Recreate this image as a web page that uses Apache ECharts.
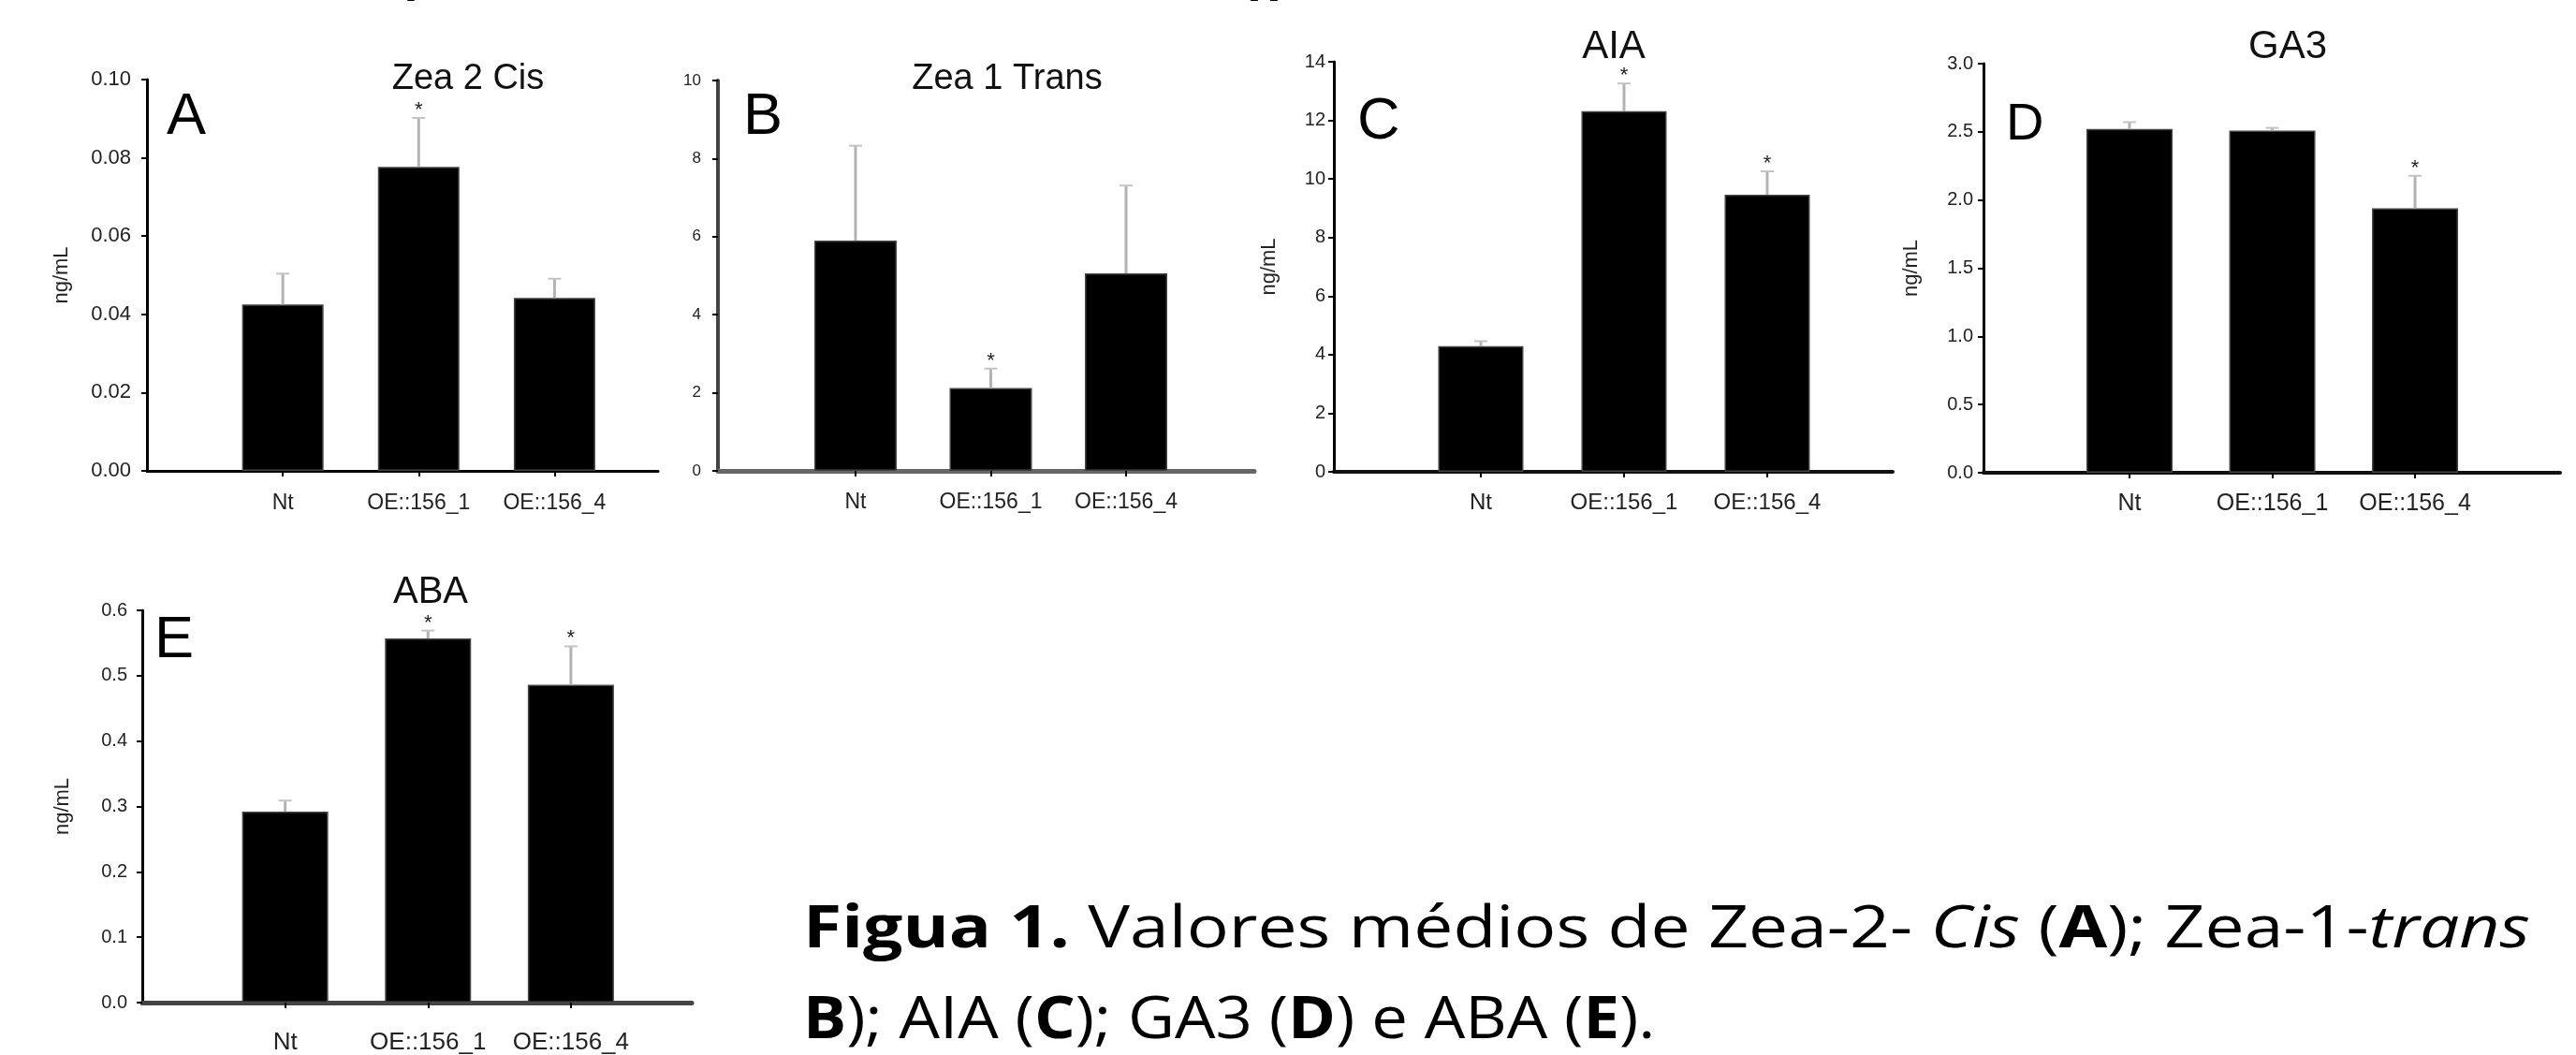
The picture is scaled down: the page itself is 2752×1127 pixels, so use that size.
<!DOCTYPE html>
<html><head><meta charset="utf-8">
<script src="https://cdn.jsdelivr.net/npm/echarts@6/dist/echarts.min.js"></script>
<style>html,body{margin:0;padding:0;background:#fff}#c{width:2752px;height:1127px}</style>
</head><body><div id="c"></div>
<script>
// ---- data ----
const categories = ['Nt', 'OE::156_1', 'OE::156_4'];
const meanA = [0.0425, 0.0777, 0.0442];
const errA  = [0.0079, 0.0125, 0.0049];
const sigA  = [0, 1, 0];
const meanB = [5.90, 2.12, 5.06];
const errB  = [2.43, 0.50, 2.25];
const sigB  = [0, 1, 0];
const meanC = [4.29, 12.31, 9.46];
const errC  = [0.17, 0.95, 0.80];
const sigC  = [0, 1, 1];
const meanD = [2.522, 2.509, 1.940];
const errD  = [0.049, 0.020, 0.238];
const sigD  = [0, 0, 1];
const meanE = [0.292, 0.557, 0.486];
const errE  = [0.017, 0.012, 0.059];
const sigE  = [0, 1, 1];
// y axis [min, max, interval, decimals]
const yAxisA = [0, 0.10, 0.02, 2];
const yAxisB = [0, 10, 2, 0];
const yAxisC = [0, 14, 2, 0];
const yAxisD = [0, 3.0, 0.5, 1];
const yAxisE = [0, 0.6, 0.1, 1];
const titles = ['Zea 2 Cis', 'Zea 1 Trans', 'AIA', 'GA3', 'ABA'];
const letters = ['A', 'B', 'C', 'D', 'E'];
const yUnit = 'ng/mL';

const FONT = "'Liberation Sans', Arial, sans-serif";
const CAPFONT = "'Open Sans', 'Noto Sans', sans-serif";

const panels = [
  {mean: meanA, err: errA, sig: sigA, y: yAxisA, name: yUnit, nameGap: 80,
   grid: {left: 157, top: 85, width: 546, height: 418}, xMin: 0, xMax: 3.762, barW: 87,
   yLine: ['#000', 3], xLine: ['#000', 3], yFont: 22, xFont: 23, yMargin: 17, xMargin: 23,
   t: [500, 66, 38], l: [178, 94, 63]},
  {mean: meanB, err: errB, sig: sigB, y: yAxisB, name: '', nameGap: 0,
   grid: {left: 767, top: 86, width: 573, height: 417}, xMin: -0.017, xMax: 3.948, barW: 88,
   yLine: ['#444', 4], xLine: ['#666', 5], yFont: 17, xFont: 23, yMargin: 18, xMargin: 22,
   t: [1076, 66, 38], l: [794, 94, 63]},
  {mean: meanC, err: errC, sig: sigC, y: yAxisC, name: yUnit, nameGap: 58,
   grid: {left: 1425, top: 66, width: 597, height: 438}, xMin: -0.026, xMax: 3.876, barW: 91,
   yLine: ['#000', 3], xLine: ['#111', 4], yFont: 20, xFont: 24, yMargin: 9, xMargin: 21,
   t: [1724, 29, 42], l: [1450, 99, 63]},
  {mean: meanD, err: errD, sig: sigD, y: yAxisD, name: yUnit, nameGap: 66,
   grid: {left: 2119, top: 68, width: 616, height: 437}, xMin: -0.023, xMax: 4.016, barW: 92,
   yLine: ['#000', 3], xLine: ['#111', 4], yFont: 20, xFont: 25, yMargin: 11, xMargin: 21,
   t: [2444, 29, 42], l: [2143, 106, 56]},
  {mean: meanE, err: errE, sig: sigE, y: yAxisE, name: yUnit, nameGap: 74,
   grid: {left: 152, top: 652, width: 587, height: 437}, xMin: 0, xMax: 3.846, barW: 92,
   yLine: ['#000', 3], xLine: ['#444', 5], yFont: 20, xFont: 26, yMargin: 16, xMargin: 30,
   t: [460, 613, 40], l: [165, 653, 63]}
];

const tickPos = categories.map((c, i) => i + 1);

function errRender(params, api) {
  const x = api.value(0), m = api.value(1), e = api.value(2), s = api.value(3);
  const p0 = api.coord([x, m]);
  const p1 = api.coord([x, m + e]);
  const ch = [
    {type: 'line', shape: {x1: p0[0], y1: p0[1], x2: p1[0], y2: p1[1]}, style: {stroke: '#b3b3b3', lineWidth: 3}},
    {type: 'line', shape: {x1: p1[0] - 7, y1: p1[1], x2: p1[0] + 7, y2: p1[1]}, style: {stroke: '#c4c4c4', lineWidth: 2}}
  ];
  if (s) ch.push({type: 'text', x: p1[0], y: p1[1] - 19,
    style: {text: '*', fontSize: 22, fontFamily: FONT, fill: '#222', align: 'center', verticalAlign: 'top'}});
  return {type: 'group', children: ch};
}

const capRich = {
  b: {fontSize: 62, fontFamily: CAPFONT, fontWeight: 'bold', fill: '#000', lineHeight: 62},
  n: {fontSize: 62, fontFamily: CAPFONT, fill: '#000', lineHeight: 62},
  i: {fontSize: 62, fontFamily: CAPFONT, fontStyle: 'italic', fill: '#000', lineHeight: 62}
};

const option = {
  animation: false,
  backgroundColor: '#fff',
  grid: panels.map(p => Object.assign({containLabel: false}, p.grid)),
  xAxis: panels.map((p, i) => ({
    type: 'value', gridIndex: i, min: p.xMin, max: p.xMax,
    axisLine: {show: true, onZero: false, lineStyle: {color: p.xLine[0], width: p.xLine[1]}},
    axisTick: {show: true, customValues: tickPos, length: 6, lineStyle: {color: '#000', width: 2}},
    axisLabel: {show: true, customValues: tickPos, margin: p.xMargin, fontSize: p.xFont, fontFamily: FONT, color: '#222',
      formatter: v => categories[Math.round(v) - 1] || ''},
    splitLine: {show: false}
  })),
  yAxis: panels.map((p, i) => ({
    type: 'value', gridIndex: i, min: p.y[0], max: p.y[1], interval: p.y[2],
    axisLine: {show: true, onZero: false, lineStyle: {color: p.yLine[0], width: p.yLine[1]}},
    axisTick: {show: true, length: 6, lineStyle: {color: '#000', width: 2}},
    axisLabel: {margin: p.yMargin, fontSize: p.yFont, fontFamily: FONT, color: '#222',
      formatter: v => v.toFixed(p.y[3])},
    splitLine: {show: false},
    name: p.name, nameLocation: 'middle', nameGap: p.nameGap,
    nameTextStyle: {fontSize: 22, fontFamily: FONT, color: '#222'}
  })),
  series: panels.flatMap((p, i) => [
    {type: 'bar', xAxisIndex: i, yAxisIndex: i, silent: true, barWidth: p.barW,
     data: p.mean.map((m, j) => [j + 1, m]),
     itemStyle: {color: '#000', borderColor: '#444', borderWidth: 1.5}},
    {type: 'custom', xAxisIndex: i, yAxisIndex: i, silent: true, z: 5,
     data: p.mean.map((m, j) => [j + 1, m, p.err[j], p.sig[j]]),
     renderItem: errRender}
  ]),
  graphic: [].concat(
    panels.map((p, i) => ({type: 'text', x: p.t[0], y: p.t[1], silent: true,
      style: {text: titles[i], fontSize: p.t[2], fontFamily: FONT, fill: '#111', align: 'center', verticalAlign: 'top'}})),
    panels.map((p, i) => ({type: 'text', x: p.l[0], y: p.l[1], silent: true,
      style: {text: letters[i], fontSize: p.l[2], fontFamily: FONT, fill: '#000', align: 'left', verticalAlign: 'top'}})),
    [
      {type: 'text', x: 858, y: 963, scaleX: 1.21, silent: true, style: {
        text: '{b|Figua 1.}{n| Valores médios de Zea-2- }{i|Cis}{n| (}{b|A}{n|); Zea-1-}{i|trans}',
        rich: capRich, verticalAlign: 'top', align: 'left'}},
      {type: 'text', x: 858, y: 1060, scaleX: 1.11, silent: true, style: {
        text: '{b|B}{n|); AIA (}{b|C}{n|); GA3 (}{b|D}{n|) e ABA (}{b|E}{n|).}',
        rich: capRich, verticalAlign: 'top', align: 'left'}},
      {type: 'text', x: 424, y: -58, silent: true, style: {text: '(', fontSize: 62, fontFamily: CAPFONT, fontWeight: 'bold', fill: '#000', verticalAlign: 'top'}},
      {type: 'text', x: 1340, y: -58, silent: true, style: {text: '))', fontSize: 62, fontFamily: CAPFONT, fontWeight: 'bold', fontStyle: 'italic', fill: '#000', verticalAlign: 'top'}},
      {type: 'text', x: 1572, y: -58, silent: true, style: {text: ',', fontSize: 62, fontFamily: CAPFONT, fontWeight: 'bold', fill: '#000', verticalAlign: 'top'}}
    ]
  )
};
const chart = echarts.init(document.getElementById('c'));
chart.setOption(option);
</script>
</body></html>
